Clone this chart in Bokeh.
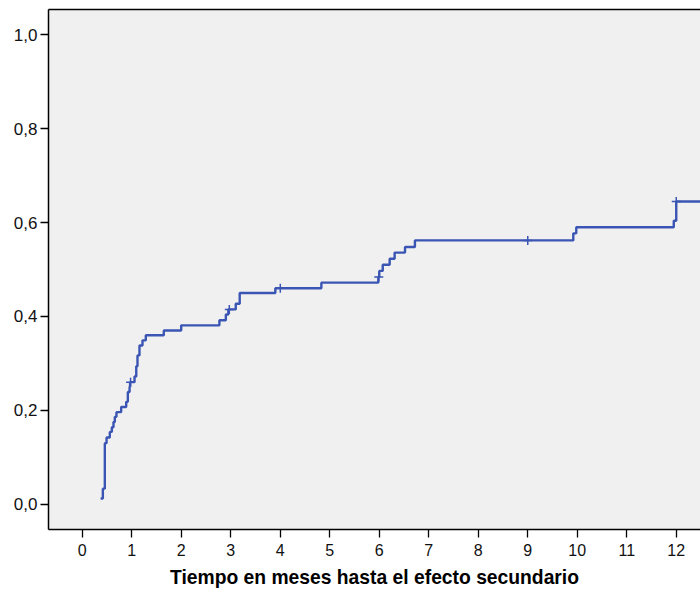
from bokeh.plotting import figure
from bokeh.models import Range1d, FixedTicker, LinearAxis
from bokeh.embed import file_html
from bokeh.resources import INLINE

# ---- data ----
event_times = [0.37, 0.415, 0.455, 0.49, 0.556, 0.597, 0.63, 0.657, 0.69, 0.785,
               0.887, 0.92, 0.955, 0.965, 1.055, 1.09, 1.115, 1.155, 1.216, 1.283,
               1.647, 1.998, 2.77, 2.9, 2.95, 3.1, 3.18, 3.9, 4.83, 5.98,
               6.0, 6.07, 6.21, 6.31, 6.52, 6.72, 9.92, 9.98, 11.95, 12.0]
cum_incidence = [0.012, 0.033, 0.13, 0.142, 0.154, 0.164, 0.175, 0.186, 0.196, 0.207,
                 0.218, 0.239, 0.25, 0.26, 0.272, 0.294, 0.317, 0.338, 0.349, 0.36,
                 0.37, 0.381, 0.392, 0.404, 0.415, 0.427, 0.45, 0.46, 0.472, 0.484,
                 0.497, 0.51, 0.523, 0.536, 0.548, 0.562, 0.577, 0.59, 0.604, 0.645]
last_followup = 12.6

censor_times = [0.975, 2.97, 4.0, 5.99, 9.0, 12.0]
censor_values = [0.26, 0.415, 0.46, 0.484, 0.562, 0.645]

x_ticks = list(range(0, 13))
y_ticks = [0.0, 0.2, 0.4, 0.6, 0.8, 1.0]
y_tick_labels = ["0,0", "0,2", "0,4", "0,6", "0,8", "1,0"]
x_title = "Tiempo en meses hasta el efecto secundario"

LINE = "#3a55b3"
FONT = "Liberation Sans"

p = figure(width=700, height=595, output_backend="svg", toolbar_location=None,
           x_range=Range1d(-0.683, 12.49), y_range=Range1d(-0.054, 1.054),
           min_border_left=48, min_border_right=0, min_border_top=9, min_border_bottom=66)
p.background_fill_color = "#f0f0f0"
p.border_fill_color = "white"
p.outline_line_color = None
p.xgrid.visible = False
p.ygrid.visible = False

# step curve
xs = event_times + [last_followup]
ys = cum_incidence + [cum_incidence[-1]]
p.step(xs, ys, mode="after", line_color=LINE, line_width=2.4)
p.scatter(censor_times, censor_values, marker="cross", size=9, line_color=LINE, line_width=1.5)

# axes styling
xa = p.xaxis[0]
xa.ticker = FixedTicker(ticks=x_ticks)
xa.axis_label = x_title
xa.axis_label_text_font = FONT
xa.axis_label_text_font_style = "bold"
xa.axis_label_text_font_size = "19.3px"
xa.axis_label_text_color = "black"
xa.axis_label_standoff = 8
ya = p.yaxis[0]
ya.ticker = FixedTicker(ticks=y_ticks)
ya.major_label_overrides = {v: s for v, s in zip(y_ticks, y_tick_labels)}
ya.major_label_standoff = 3
xa.major_label_standoff = 6
for ax in (xa, ya):
    ax.axis_line_color = "black"
    ax.axis_line_width = 1.5
    ax.major_tick_line_color = "black"
    ax.major_tick_line_width = 1.3
    ax.major_tick_out = 8
    ax.major_tick_in = 0
    ax.minor_tick_line_color = None
    ax.major_label_text_font = FONT
    ax.major_label_text_font_size = "16px"
    ax.major_label_text_color = "#111111"
ya.major_label_text_font_size = "17px"

top = LinearAxis(major_tick_line_color=None, minor_tick_line_color=None,
                 major_label_text_font_size="0px", major_label_standoff=0,
                 major_tick_out=0, major_tick_in=0, axis_line_color="black",
                 axis_line_width=1.5)
top.ticker = FixedTicker(ticks=[])
p.add_layout(top, "above")

open("out.html", "w").write(file_html(p, INLINE))
